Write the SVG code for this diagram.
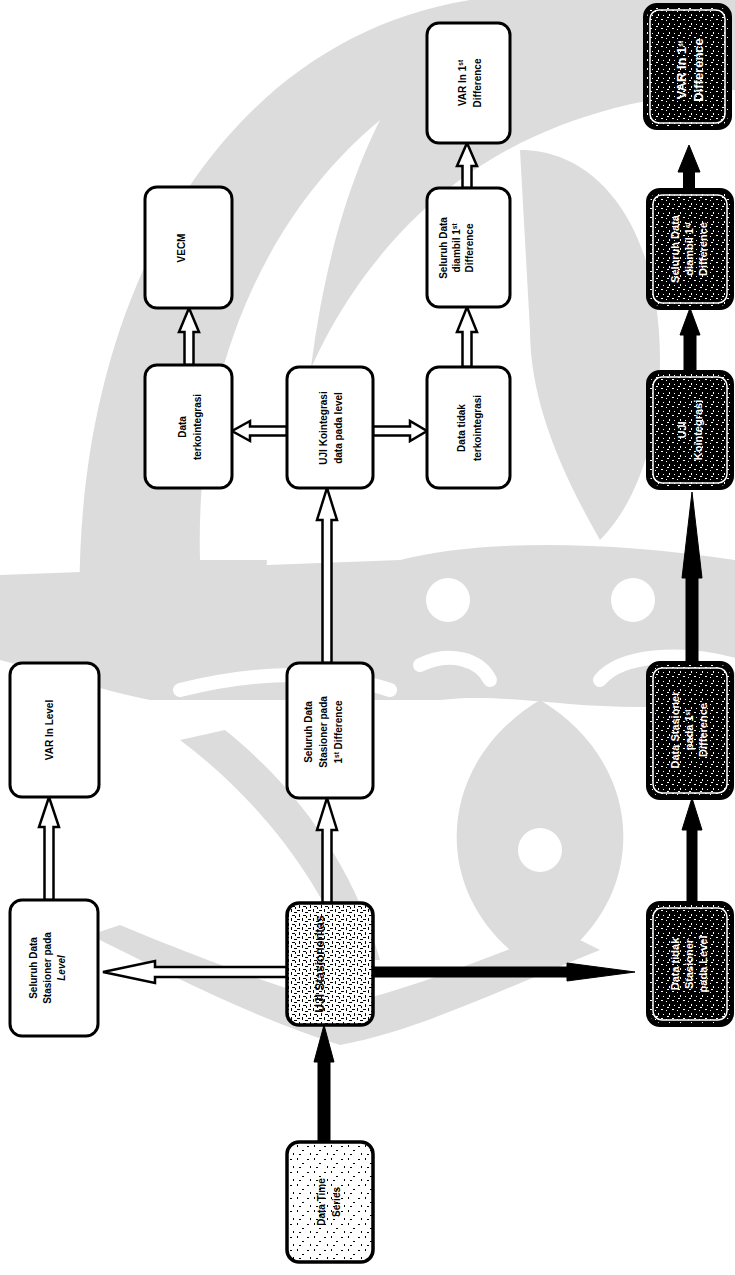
<svg xmlns="http://www.w3.org/2000/svg" width="735" height="1275" viewBox="0 0 735 1275">
<style>
  .box{fill:#fff;stroke:#000;stroke-width:3}
  .dark{fill:url(#speckDark);stroke:#000;stroke-width:4}
  .darkin{fill:none;stroke:#fff;stroke-width:1.5}
  .t{font-family:"Liberation Sans Narrow","Liberation Sans",Arial,sans-serif;font-weight:bold;font-size:10px;text-anchor:middle;fill:#000}
  .tw{font-family:"Liberation Sans Narrow","Liberation Sans",Arial,sans-serif;font-weight:bold;font-size:11px;text-anchor:middle;fill:#fff}
  .hollow{fill:#fff;stroke:#000;stroke-width:2.5;stroke-linejoin:miter}
  .solid{fill:#000;stroke:#000;stroke-width:1}
  .sup{font-size:6.5px}
  .wm{fill:#dcdcdc;stroke:none}
  .wmw{fill:#fff;stroke:none}
  .wml{fill:none;stroke:#fff;stroke-width:14;stroke-linecap:round}
</style>
<defs>
  <pattern id="speckLight" width="17" height="13" patternUnits="userSpaceOnUse">
    <rect width="17" height="13" fill="#fff"/>
    <rect x="1" y="2" width="2" height="1" fill="#000"/>
    <rect x="8" y="1" width="1" height="2" fill="#000"/>
    <rect x="13" y="6" width="2" height="1" fill="#000"/>
    <rect x="4" y="9" width="1" height="2" fill="#000"/>
    <rect x="10" y="10" width="2" height="1" fill="#000"/>
  </pattern>
  <pattern id="speckDense" width="11" height="9" patternUnits="userSpaceOnUse">
    <rect width="11" height="9" fill="#fff"/>
    <rect x="0" y="1" width="3" height="1" fill="#000"/>
    <rect x="5" y="0" width="1" height="3" fill="#000"/>
    <rect x="8" y="3" width="3" height="1" fill="#000"/>
    <rect x="2" y="5" width="1" height="3" fill="#000"/>
    <rect x="6" y="6" width="3" height="1" fill="#000"/>
    <rect x="9" y="7" width="1" height="2" fill="#000"/>
  </pattern>
  <pattern id="speckDark" width="11" height="9" patternUnits="userSpaceOnUse">
    <rect width="11" height="9" fill="#000"/>
    <rect x="1" y="1" width="2" height="1" fill="#fff"/>
    <rect x="6" y="2" width="1" height="1" fill="#fff"/>
    <rect x="9" y="5" width="1" height="2" fill="#fff"/>
    <rect x="3" y="6" width="1" height="1" fill="#fff"/>
    <rect x="7" y="8" width="2" height="1" fill="#fff"/>
  </pattern>
</defs>
<rect width="735" height="1275" fill="#fff"/>

<g id="watermark">
  <path class="wm" d="M 80 620 C 70 300 220 40 470 0 L 735 0 L 735 90 C 560 100 420 170 330 330 C 280 420 265 520 265 620 Z"/>
  <path class="wmw" d="M 200 560 C 195 380 260 220 380 120 C 340 200 300 330 300 560 Z"/>
  <path class="wm" d="M 520 150 C 600 150 660 230 660 360 C 660 430 640 500 600 540 C 560 470 530 400 530 330 Z"/>
  <path class="wmw" d="M 735 180 C 690 220 680 300 690 380 L 735 380 Z"/>
  <path class="wm" d="M 0 575 L 400 560 C 480 540 600 540 735 560 L 735 700 C 600 720 520 690 440 700 L 150 700 C 100 690 40 670 0 660 Z"/>
  <circle class="wmw" cx="448" cy="600" r="22"/>
  <circle class="wmw" cx="633" cy="600" r="22"/>
  <path class="wml" d="M 420 665 C 450 650 480 660 490 680"/>
  <path class="wml" d="M 600 680 C 620 655 680 650 735 665"/>
  <path class="wml" d="M 180 690 C 260 670 330 670 390 690"/>
  <path class="wm" d="M 540 700 C 640 760 650 880 570 950 L 510 950 C 430 880 440 760 540 700 Z"/>
  <circle class="wmw" cx="540" cy="850" r="22"/>
  <path class="wm" d="M 90 935 C 180 980 260 1020 340 1045 C 420 1030 500 990 600 950 L 560 930 C 480 960 410 990 340 1005 C 270 985 180 950 120 925 Z"/>
  <path class="wm" d="M 180 740 C 260 800 320 880 350 960 L 380 960 C 355 870 300 790 225 730 Z"/>
</g>

<g id="connectors">
  <path class="hollow" d="M44.5 900 L44.5 827 L39 827 L49 797 L59 827 L53.5 827 L53.5 900 Z"/>
  <path class="hollow" d="M322.5 903 L322.5 830 L317 830 L327 798 L337 830 L331.5 830 L331.5 903 Z"/>
  <path class="hollow" d="M287 967 L155 967 L155 961 L103 972 L155 983 L155 977 L287 977 Z"/>
  <path class="hollow" d="M322.5 663 L322.5 520 L317 520 L327 488 L337 520 L331.5 520 L331.5 663 Z"/>
  <path class="hollow" d="M287 426.5 L250 426.5 L250 421 L232 431 L250 441 L250 435.5 L287 435.5 Z"/>
  <path class="hollow" d="M373 426.5 L410 426.5 L410 421 L427 431 L410 441 L410 435.5 L373 435.5 Z"/>
  <path class="hollow" d="M184.5 365 L184.5 332 L179 332 L189 308 L199 332 L193.5 332 L193.5 365 Z"/>
  <path class="hollow" d="M462.5 367 L462.5 332 L457 332 L467 307 L477 332 L471.5 332 L471.5 367 Z"/>
  <path class="hollow" d="M462.5 188 L462.5 166 L457 166 L467 143 L477 166 L471.5 166 L471.5 188 Z"/>
  <path class="solid" d="M318 1142 L318 1062 L314 1062 L324 1025 L334 1062 L330 1062 L330 1142 Z"/>
  <path class="solid" d="M373 967 L567 967 L567 963 L635 972 L567 981 L567 977 L373 977 Z"/>
  <path class="solid" d="M687 903 L687 830 L682 830 L692 798 L702 830 L697 830 L697 903 Z"/>
  <path class="solid" d="M686 663 L686 578 L682 578 L692 492 L702 578 L698 578 L698 663 Z"/>
  <path class="solid" d="M684 372 L684 335 L680 335 L690 308 L700 335 L696 335 L696 372 Z"/>
  <path class="solid" d="M683.5 190 L683.5 172 L678 172 L689 145 L700 172 L694.5 172 L694.5 190 Z"/>
</g>

<g id="n_datatimeseries">
  <rect x="287" y="1142" width="86" height="120" rx="12" fill="url(#speckLight)" stroke="#000" stroke-width="3.5"/>
  <text class="t" font-size="11" transform="translate(329 1202) rotate(-90)"><tspan x="0" y="-4">Data Time</tspan><tspan x="0" y="11">Series</tspan></text>
</g>
<g id="n_ujistasioneritas">
  <rect x="287" y="903" width="86" height="122" rx="12" fill="url(#speckDense)" stroke="#000" stroke-width="3.5"/>
  <text class="t" style="font-size:12px" transform="translate(320 964) rotate(-90)"><tspan x="0" y="4">UJI Stasioneritas</tspan></text>
</g>
<g id="n_stasionerlevel">
  <rect class="box" x="10" y="900" width="88" height="136" rx="12"/>
  <text class="t" transform="translate(48 968) rotate(-90)"><tspan x="0" y="-11">Seluruh Data</tspan><tspan x="0" y="3">Stasioner pada</tspan><tspan x="0" y="17" font-style="italic">Level</tspan></text>
</g>
<g id="n_varlevel">
  <rect class="box" x="10" y="663" width="89" height="134" rx="12"/>
  <text class="t" transform="translate(50 730) rotate(-90)"><tspan x="0" y="3">VAR In Level</tspan></text>
</g>
<g id="n_stasioner1st">
  <rect class="box" x="287" y="663" width="86" height="135" rx="12"/>
  <text class="t" transform="translate(324 732) rotate(-90)"><tspan x="0" y="-12">Seluruh Data</tspan><tspan x="0" y="3">Stasioner pada</tspan><tspan x="0" y="18">1<tspan class="sup" baseline-shift="super">st</tspan> Difference</tspan></text>
</g>
<g id="n_ujikointegrasi">
  <rect class="box" x="287" y="367" width="86" height="121" rx="12"/>
  <text class="t" transform="translate(331 428) rotate(-90)"><tspan x="0" y="-4">UJI Kointegrasi</tspan><tspan x="0" y="11">data pada level</tspan></text>
</g>
<g id="n_terkointegrasi">
  <rect class="box" x="145" y="365" width="87" height="123" rx="12"/>
  <text class="t" transform="translate(190 427) rotate(-90)"><tspan x="0" y="-4">Data</tspan><tspan x="0" y="11">terkointegrasi</tspan></text>
</g>
<g id="n_vecm">
  <rect class="box" x="145" y="187" width="87" height="121" rx="12"/>
  <text class="t" transform="translate(182 248) rotate(-90)"><tspan x="0" y="3">VECM</tspan></text>
</g>
<g id="n_tidakterkointegrasi">
  <rect class="box" x="427" y="367" width="83" height="121" rx="12"/>
  <text class="t" transform="translate(470 428) rotate(-90)"><tspan x="0" y="-5">Data tidak</tspan><tspan x="0" y="11">terkointegrasi</tspan></text>
</g>
<g id="n_diambil1st">
  <rect class="box" x="427" y="188" width="83" height="119" rx="12"/>
  <text class="t" transform="translate(457 248) rotate(-90)"><tspan x="0" y="-10">Seluruh Data</tspan><tspan x="0" y="3">diambil 1<tspan class="sup" baseline-shift="super">st</tspan></tspan><tspan x="0" y="16">Difference</tspan></text>
</g>
<g id="n_var1st">
  <rect class="box" x="427" y="23" width="83" height="120" rx="12"/>
  <text class="t" transform="translate(470 83) rotate(-90)"><tspan x="0" y="-4">VAR In 1<tspan class="sup" baseline-shift="super">st</tspan></tspan><tspan x="0" y="11">Difference</tspan></text>
</g>

<g id="d_1">
  <rect class="dark" x="648" y="903" width="84" height="122" rx="12"/>
  <rect class="darkin" x="653" y="908" width="74" height="112" rx="9"/>
  <text class="tw" transform="translate(690 964) rotate(-90)"><tspan x="0" y="-11">Data tidak</tspan><tspan x="0" y="3">Stasioner</tspan><tspan x="0" y="17">pada Level</tspan></text>
</g>
<g id="d_2">
  <rect class="dark" x="648" y="663" width="84" height="135" rx="12"/>
  <rect class="darkin" x="653" y="668" width="74" height="125" rx="9"/>
  <text class="tw" transform="translate(690 730) rotate(-90)"><tspan x="0" y="-11">Data Stasioner</tspan><tspan x="0" y="3">pada 1<tspan class="sup" baseline-shift="super">st</tspan></tspan><tspan x="0" y="17">Difference</tspan></text>
</g>
<g id="d_3">
  <rect class="dark" x="648" y="372" width="84" height="116" rx="12"/>
  <rect class="darkin" x="653" y="377" width="74" height="106" rx="9"/>
  <text class="tw" transform="translate(690 430) rotate(-90)"><tspan x="0" y="-4">UJI</tspan><tspan x="0" y="12">Kointegrasi</tspan></text>
</g>
<g id="d_4">
  <rect class="dark" x="648" y="190" width="84" height="118" rx="12"/>
  <rect class="darkin" x="653" y="195" width="74" height="108" rx="9"/>
  <text class="tw" transform="translate(690 249) rotate(-90)"><tspan x="0" y="-11">Seluruh Data</tspan><tspan x="0" y="3">diambil 1<tspan class="sup" baseline-shift="super">st</tspan></tspan><tspan x="0" y="17">Difference</tspan></text>
</g>
<g id="d_5">
  <rect class="dark" x="645" y="5" width="85" height="123" rx="12"/>
  <rect class="darkin" x="650" y="10" width="75" height="113" rx="9"/>
  <text class="tw" style="font-size:13px" transform="translate(690 70) rotate(-90)"><tspan x="0" y="-4">VAR In 1<tspan class="sup" baseline-shift="super">st</tspan></tspan><tspan x="0" y="13">Difference</tspan></text>
</g>
</svg>
